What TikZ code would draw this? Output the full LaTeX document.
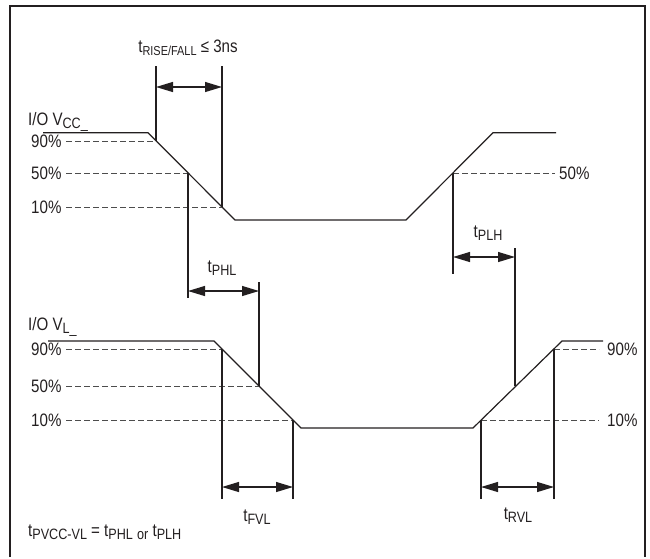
\documentclass[tikz,border=0pt]{standalone}
\usepackage{fontspec}
\setmainfont{Liberation Sans}[FakeStretch=0.84]
\usepackage{xcolor}
\usepackage{tikz}
\usetikzlibrary{arrows.meta, positioning}

\definecolor{ink}{HTML}{231F20}
\definecolor{dashgray}{HTML}{4D4D4D}

% lowered subscript text
\newcommand{\lo}[2][15]{\raisebox{-3.5pt}{\fontsize{#1}{#1}\selectfont #2}}

\tikzset{
    wave/.style={draw=ink, line width=1.2pt, line join=miter},
    level/.style={draw=dashgray, line width=1pt, dash pattern=on 5.5pt off 3.5pt},
    marker/.style={draw=ink, line width=1.2pt},
    span/.style={draw=ink, line width=1.2pt, <->},
    lbl/.style={inner sep=0pt, text=ink, font=\fontsize{18}{21}\selectfont}
}

\begin{document}
\begin{tikzpicture}[x=1pt, y=-1pt, >={Triangle[length=17pt,width=10pt]}]
    \useasboundingbox (0,0) rectangle (650,558);

    % Frame
    \draw[ink, line width=2pt] (10,557) -- (10,6) -- (645,6) -- (645,557);

    % I/O VCC waveform
    \coordinate (ccA) at (43,132.7);
    \coordinate (ccB) at (148,132.7);
    \coordinate (ccC) at (235,220);
    \coordinate (ccD) at (406,220);
    \coordinate (ccE) at (493,132.7);
    \coordinate (ccF) at (556,132.7);
    \draw[wave] (ccA) -- (ccB) -- (ccC) -- (ccD) -- (ccE) -- (ccF);

    \coordinate (cc90) at (156,141);
    \coordinate (cc50) at (188,173);
    \coordinate (cc10) at (222,207);
    \coordinate (ccR50) at (453,173);

    % I/O VL waveform
    \coordinate (vlA) at (48,341);
    \coordinate (vlB) at (214,341);
    \coordinate (vlC) at (301,428);
    \coordinate (vlD) at (473,428);
    \coordinate (vlE) at (562,341);
    \coordinate (vlF) at (603,341);
    \draw[wave] (vlA) -- (vlB) -- (vlC) -- (vlD) -- (vlE) -- (vlF);

    \coordinate (vl90) at (222,349);
    \coordinate (vl50) at (259,386);
    \coordinate (vl10) at (293,420);
    \coordinate (vlR10) at (481,420);
    \coordinate (vlR50) at (515,386);
    \coordinate (vlR90) at (554,349);

    % Level labels and dashed levels, left side
    \foreach \pt/\txt in {cc90/90\%, cc50/50\%, cc10/10\%, vl90/90\%, vl50/50\%, vl10/10\%} {
        \node[lbl, anchor=west] (lv-\pt) at (31,0 |- \pt) {\txt};
        \draw[level] (66,0 |- \pt) -- (\pt);
    }

    % Level labels and dashed levels, right side
    \node[lbl, anchor=west] (lvR50) at (559,173) {50\%};
    \draw[level] (ccR50) -- (555,173);
    \node[lbl, anchor=west] (lvR90) at (607,349) {90\%};
    \draw[level] (vlR90) -- (599,349);
    \node[lbl, anchor=west] (lvR10) at (607,420) {10\%};
    \draw[level] (vlR10) -- (599,420);

    % Signal names
    \node[lbl, anchor=base west] (namecc) at (28,125) {I/O V\lo{CC\_}};
    \node[lbl, anchor=base west] (namevl) at (28,330) {I/O V\lo{L\_}};

    % Rise/fall time
    \draw[marker] (156,66) -- (cc90);
    \draw[marker] (222,66) -- (cc10);
    \draw[span] (156,87) -- (222,87);
    \node[lbl] (trise) at (188,48) {t\lo[13]{RISE/FALL} ≤ 3ns};

    % tPHL
    \draw[marker] (cc50) -- (188,298);
    \draw[marker] (259,282) -- (vl50);
    \draw[span] (188,291) -- (259,291);
    \node[lbl] (tphl) at (222,268) {t\lo{PHL}};

    % tPLH
    \draw[marker] (ccR50) -- (453,274);
    \draw[marker] (515,248) -- (vlR50);
    \draw[span] (453,257) -- (515,257);
    \node[lbl] (tplh) at (488,233) {t\lo{PLH}};

    % tFVL
    \draw[marker] (vl90) -- (222,499);
    \draw[marker] (vl10) -- (293,499);
    \draw[span] (222,487) -- (293,487);
    \node[lbl] (tfvl) at (257,517) {t\lo{FVL}};

    % tRVL
    \draw[marker] (vlR10) -- (481,499);
    \draw[marker] (vlR90) -- (554,499);
    \draw[span] (481,487) -- (554,487);
    \node[lbl] (trvl) at (518,515) {t\lo{RVL}};

    % Note
    \node[lbl, anchor=west] (note) at (28,532) {t\lo{PVCC-VL} = t\lo{PHL} \lo{or} t\lo{PLH}};
\end{tikzpicture}
\end{document}
